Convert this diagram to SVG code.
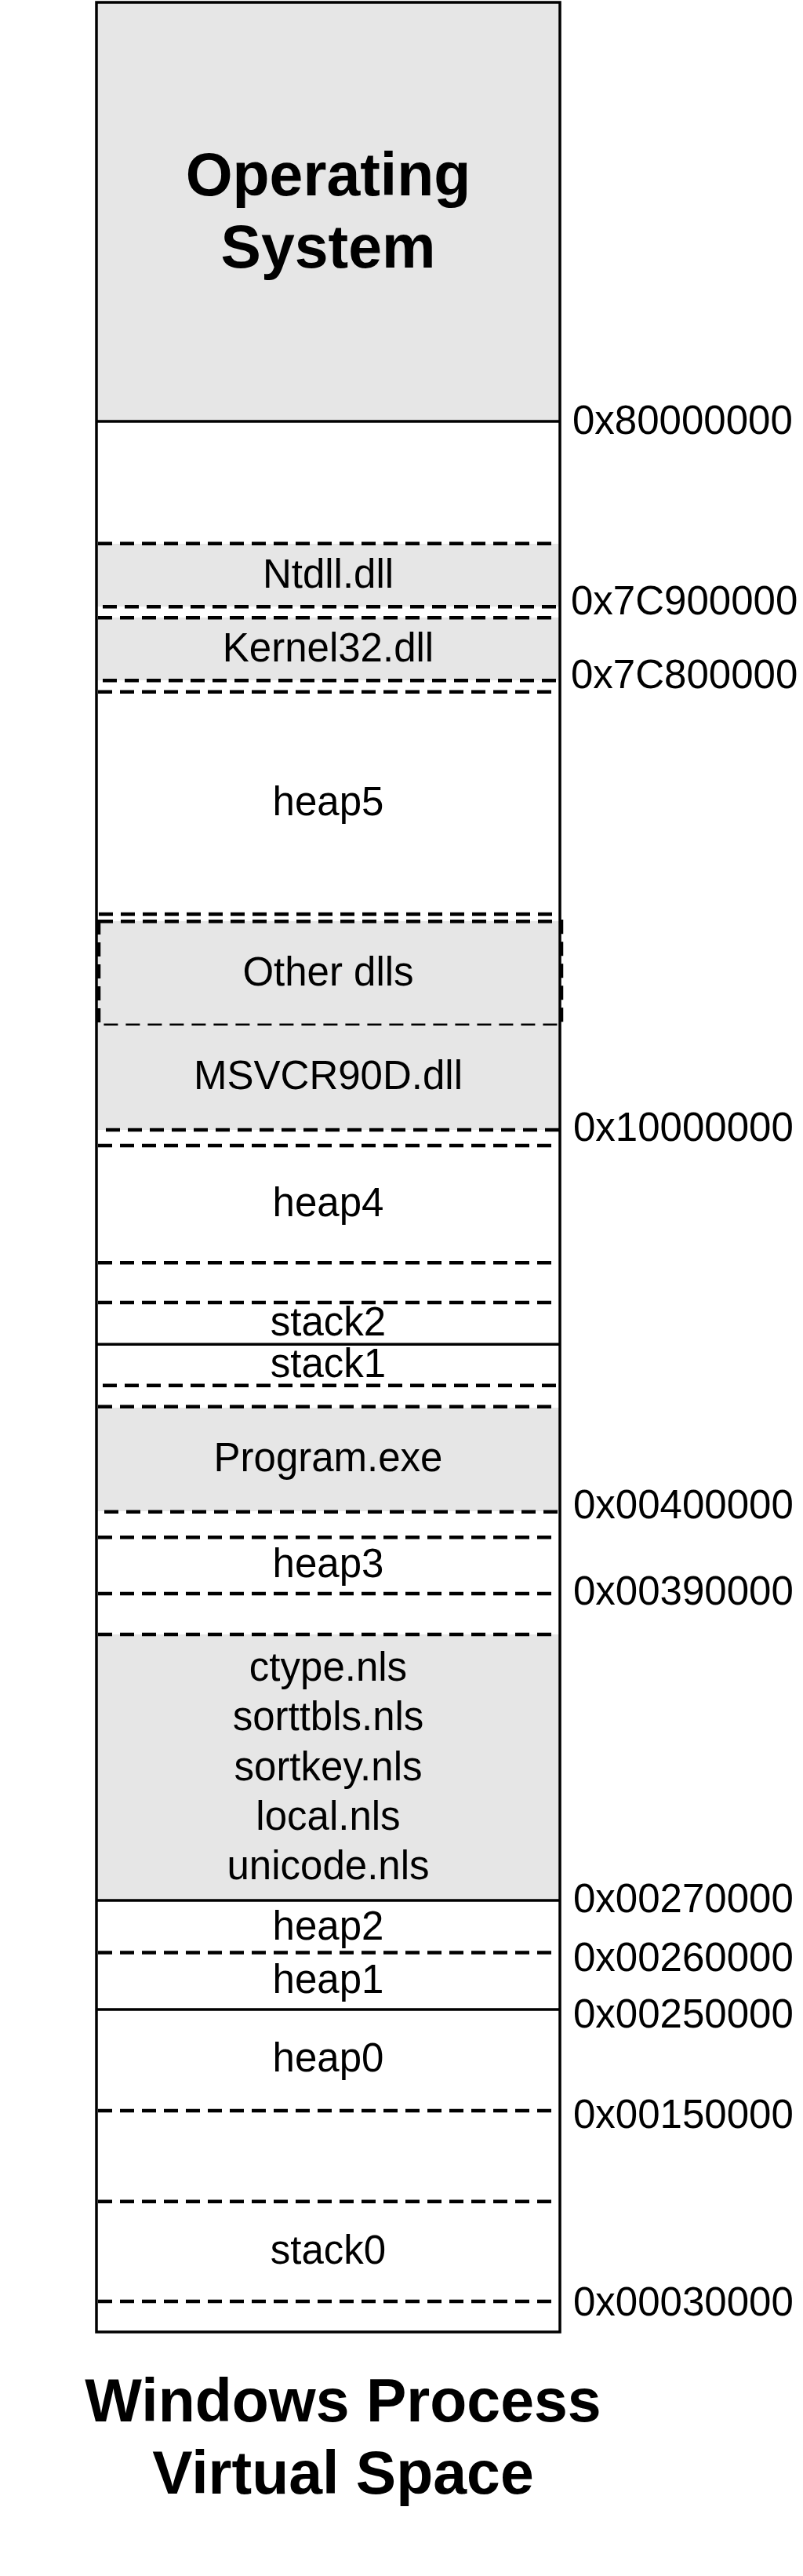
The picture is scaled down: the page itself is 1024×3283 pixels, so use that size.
<svg xmlns="http://www.w3.org/2000/svg" width="1024" height="3283" viewBox="0 0 1024 3283">
<style>
.bg{fill:#ffffff}
.fill{fill:#e6e6e6;stroke:none}
.solid{stroke:#000;stroke-width:3.5;fill:none}
.dash{stroke:#000;stroke-width:4.5;stroke-dasharray:18 10;fill:none}
.lbl{font-family:"Liberation Sans",Arial,sans-serif;font-size:51px;fill:#000;text-anchor:middle}
.addr{font-family:"Liberation Sans",Arial,sans-serif;font-size:51px;fill:#000}
.big{font-family:"Liberation Sans",Arial,sans-serif;font-size:77px;font-weight:bold;fill:#000;text-anchor:middle}
</style>
<rect class="bg" x="0" y="0" width="1024" height="3283"/>

<g id="os">
<rect class="fill" x="123" y="3" width="591" height="534"/>
<text class="big" x="418.5" y="249">Operating</text>
<text class="big" x="418.5" y="341">System</text>
</g>

<g id="ntdll">
<rect class="fill" x="123" y="693" width="591" height="80"/>
<line class="dash" x1="125" y1="692.7" x2="714" y2="692.7"/>
<line class="dash" x1="131" y1="773.3" x2="714" y2="773.3"/>
<text class="lbl" x="418.5" y="749">Ntdll.dll</text>
</g>

<g id="kernel32">
<rect class="fill" x="123" y="787" width="591" height="80"/>
<line class="dash" x1="125" y1="787.3" x2="714" y2="787.3"/>
<line class="dash" x1="131" y1="867.3" x2="714" y2="867.3"/>
<text class="lbl" x="418.5" y="843">Kernel32.dll</text>
</g>

<g id="heap5">
<line class="dash" x1="125" y1="881.7" x2="708" y2="881.7"/>
<line class="dash" x1="126" y1="1165" x2="712" y2="1165"/>
<text class="lbl" x="418.5" y="1039">heap5</text>
</g>

<g id="other-dlls">
<rect class="fill" x="123" y="1174" width="591" height="133"/>
<rect class="dash" x="126" y="1174.3" width="590" height="132.4"/>
<text class="lbl" x="418.5" y="1256">Other dlls</text>
</g>

<g id="msvcr90d">
<rect class="fill" x="123" y="1307" width="591" height="133"/>
<line class="dash" x1="135" y1="1440" x2="714" y2="1440"/>
<text class="lbl" x="418.5" y="1388">MSVCR90D.dll</text>
</g>

<g id="heap4">
<line class="dash" x1="125" y1="1460" x2="714" y2="1460"/>
<line class="dash" x1="125" y1="1609.3" x2="704" y2="1609.3"/>
<text class="lbl" x="418.5" y="1550">heap4</text>
</g>

<g id="stack2">
<line class="dash" x1="125" y1="1660" x2="703" y2="1660"/>
<text class="lbl" x="418.5" y="1701.7">stack2</text>
</g>

<g id="stack1">
<line class="solid" x1="123" y1="1713.3" x2="714" y2="1713.3"/>
<line class="dash" x1="131" y1="1765.7" x2="714" y2="1765.7"/>
<text class="lbl" x="418.5" y="1755">stack1</text>
</g>

<g id="program-exe">
<rect class="fill" x="123" y="1794" width="591" height="132"/>
<line class="dash" x1="125" y1="1792.7" x2="714" y2="1792.7"/>
<line class="dash" x1="133" y1="1926.7" x2="714" y2="1926.7"/>
<text class="lbl" x="418.5" y="1875">Program.exe</text>
</g>

<g id="heap3">
<line class="dash" x1="125" y1="1959.3" x2="708" y2="1959.3"/>
<line class="dash" x1="125" y1="2031" x2="714" y2="2031"/>
<text class="lbl" x="418.5" y="2010">heap3</text>
</g>

<g id="nls">
<rect class="fill" x="123" y="2083" width="591" height="339"/>
<line class="dash" x1="125" y1="2083" x2="708" y2="2083"/>
<text class="lbl" x="418.5" y="2142">ctype.nls</text>
<text class="lbl" x="418.5" y="2205">sorttbls.nls</text>
<text class="lbl" x="418.5" y="2269">sortkey.nls</text>
<text class="lbl" x="418.5" y="2332">local.nls</text>
<text class="lbl" x="418.5" y="2395">unicode.nls</text>
</g>

<g id="heap2">
<line class="solid" x1="123" y1="2422" x2="714" y2="2422"/>
<line class="dash" x1="125" y1="2488.5" x2="714" y2="2488.5"/>
<text class="lbl" x="418.5" y="2471.6">heap2</text>
</g>

<g id="heap1">
<line class="solid" x1="123" y1="2561" x2="714" y2="2561"/>
<text class="lbl" x="418.5" y="2540">heap1</text>
</g>

<g id="heap0">
<line class="dash" x1="125" y1="2690" x2="714" y2="2690"/>
<line class="dash" x1="125" y1="2805.7" x2="708" y2="2805.7"/>
<text class="lbl" x="418.5" y="2640">heap0</text>
</g>

<g id="stack0">
<line class="dash" x1="125" y1="2933" x2="714" y2="2933"/>
<text class="lbl" x="418.5" y="2885">stack0</text>
</g>

<g id="frame">
<line class="solid" x1="123" y1="537" x2="714" y2="537"/>
<rect class="solid" x="123" y="3" width="591" height="2969"/>
</g>

<g id="addresses">
<text class="addr" x="730" y="553">0x80000000</text>
<text class="addr" x="728" y="782.7">0x7C900000</text>
<text class="addr" x="728" y="877.3">0x7C800000</text>
<text class="addr" x="731" y="1454">0x10000000</text>
<text class="addr" x="731" y="1934.5">0x00400000</text>
<text class="addr" x="731" y="2045">0x00390000</text>
<text class="addr" x="731" y="2436.7">0x00270000</text>
<text class="addr" x="731" y="2511.7">0x00260000</text>
<text class="addr" x="731" y="2584">0x00250000</text>
<text class="addr" x="731" y="2711.7">0x00150000</text>
<text class="addr" x="731" y="2950.5">0x00030000</text>
</g>

<g id="connectors"></g>

<g id="title">
<text class="big" x="437.5" y="3086">Windows Process</text>
<text class="big" x="437.5" y="3177.5">Virtual Space</text>
</g>
</svg>
